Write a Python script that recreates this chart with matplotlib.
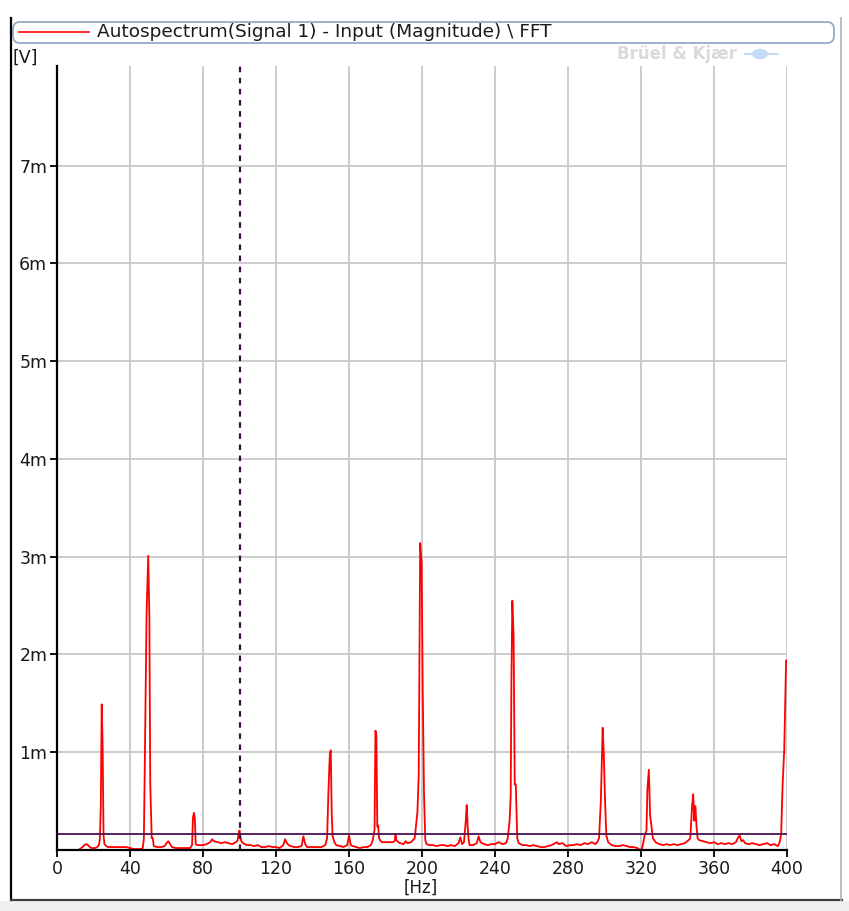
import matplotlib
matplotlib.use('Agg')
import matplotlib.pyplot as plt
from matplotlib.lines import Line2D
from matplotlib.patches import FancyBboxPatch, Rectangle, Ellipse
from matplotlib.ticker import FixedLocator, FuncFormatter

# ── Spectrum (frequency in Hz, magnitude in mV) ─────────────────────────────
freq_hz = [
    12.5, 14, 15, 16, 17, 18, 19, 20, 21, 22, 23, 23.5, 24, 24.5, 25, 25.5, 26, 27, 28,
    30, 32, 34, 36, 38, 40, 42, 44, 46, 47, 47.6, 48.2, 49.1, 50.0, 50.6, 51.1, 51.9,
    52.5, 53, 55, 57, 59, 60, 61, 62, 63, 65, 67, 69, 71, 73, 74, 74.5, 75, 75.5, 76,
    77, 78, 80, 82, 84, 85, 86, 88, 90, 92, 94, 96, 98, 99, 99.5, 100, 100.5, 101, 102,
    104, 106, 108, 110, 112, 114, 116, 118, 120, 122, 124, 125, 126, 127, 128, 130,
    132, 134, 135, 136, 137, 139, 141, 143, 145, 147, 148, 148.7, 149.5, 150, 150.5,
    151, 152, 153, 155, 157, 159, 160, 160.5, 161, 162, 164, 166, 168, 170, 172, 173,
    174, 174.5, 175, 175.5, 176, 176.5, 177, 178, 180, 182, 184, 185, 185.5, 186, 187,
    188, 190, 191, 192, 194, 196, 197.5, 198.2, 199.0, 199.8, 200.4, 201.1, 201.8,
    202.5, 204, 206, 208, 210, 212, 214, 216, 218, 220, 221, 222, 223, 224, 224.5,
    225, 225.5, 226, 228, 230, 231, 232, 234, 236, 238, 240, 242, 244, 246, 247,
    248, 248.6, 249.0, 249.5, 250.2, 250.8, 251.4, 252.2, 253, 255, 257, 259, 261,
    263, 265, 267, 269, 271, 273, 274, 275, 277, 279, 281, 283, 285, 287, 289, 291,
    293, 295, 296, 297, 298, 299, 299.6, 300.3, 301, 302, 304, 306, 308, 310, 312,
    314, 316, 318, 319.5, 320.5, 321, 322, 323, 323.5, 324.3, 325, 325.7, 326.5, 328,
    330, 332, 334, 336, 338, 340, 342, 344, 346, 347, 348, 348.6, 349.2, 349.8, 350.4,
    351, 352, 354, 356, 358, 360, 362, 364, 366, 368, 370, 372, 373, 374, 375, 376,
    377, 379, 381, 383, 385, 387, 389, 391, 393, 395, 396, 396.8, 397.6, 398.5, 399.5,
    400,
]
mag_mv = [
    0.01, 0.03, 0.05, 0.06, 0.05, 0.03, 0.02, 0.02, 0.02, 0.03, 0.05, 0.12, 0.44, 1.49, 1.07, 0.15, 0.06, 0.04, 0.03,
    0.03, 0.03, 0.03, 0.03, 0.03, 0.02, 0.01, 0.01, 0.01, 0.02, 0.12, 1.01, 2.44, 3.01, 2.40, 0.68, 0.12,
    0.12, 0.04, 0.03, 0.03, 0.04, 0.07, 0.09, 0.06, 0.03, 0.02, 0.02, 0.02, 0.02, 0.02, 0.05, 0.33, 0.38, 0.33, 0.06,
    0.05, 0.05, 0.05, 0.06, 0.08, 0.11, 0.09, 0.08, 0.07, 0.08, 0.07, 0.06, 0.08, 0.10, 0.17, 0.20, 0.13, 0.09, 0.07,
    0.05, 0.05, 0.04, 0.05, 0.03, 0.03, 0.04, 0.03, 0.03, 0.02, 0.05, 0.11, 0.07, 0.05, 0.04, 0.03,
    0.03, 0.04, 0.14, 0.06, 0.03, 0.03, 0.03, 0.03, 0.03, 0.05, 0.12, 0.58, 0.98, 1.02, 0.40,
    0.14, 0.08, 0.05, 0.04, 0.03, 0.05, 0.15, 0.10, 0.05, 0.04, 0.03, 0.02, 0.03, 0.03, 0.05, 0.10,
    0.21, 1.22, 1.18, 0.24, 0.25, 0.12, 0.10, 0.08, 0.08, 0.08, 0.08, 0.09, 0.16, 0.10, 0.08,
    0.07, 0.06, 0.09, 0.07, 0.08, 0.12, 0.39, 0.77, 3.14, 2.94, 1.62, 0.58, 0.10,
    0.06, 0.05, 0.05, 0.04, 0.05, 0.05, 0.04, 0.05, 0.04, 0.07, 0.13, 0.06, 0.08, 0.30, 0.46,
    0.25, 0.12, 0.05, 0.05, 0.07, 0.14, 0.08, 0.06, 0.05, 0.06, 0.06, 0.08, 0.06, 0.07, 0.12,
    0.30, 0.55, 1.75, 2.55, 2.19, 0.67, 0.67, 0.12, 0.07, 0.05, 0.05, 0.04, 0.05,
    0.04, 0.03, 0.03, 0.04, 0.05, 0.07, 0.08, 0.06, 0.07, 0.04, 0.05, 0.05, 0.06, 0.05, 0.07, 0.06,
    0.08, 0.06, 0.08, 0.12, 0.50, 1.25, 0.99, 0.50, 0.15, 0.08, 0.05, 0.04, 0.04, 0.05, 0.04,
    0.03, 0.03, 0.02, 0.00, 0.01, 0.05, 0.15, 0.20, 0.62, 0.82, 0.35, 0.25, 0.12, 0.08,
    0.06, 0.05, 0.06, 0.05, 0.06, 0.05, 0.06, 0.07, 0.10, 0.12, 0.45, 0.57, 0.30, 0.45, 0.25,
    0.12, 0.10, 0.09, 0.08, 0.07, 0.08, 0.06, 0.07, 0.06, 0.07, 0.06, 0.08, 0.12, 0.15, 0.09, 0.10,
    0.07, 0.06, 0.07, 0.06, 0.05, 0.06, 0.07, 0.05, 0.06, 0.04, 0.08, 0.16, 0.67, 1.03, 1.94,
    1.94,
]

# reference level and cursor
level_mv = 0.164
cursor_hz = 100

x_ticks = list(range(0, 401, 40))
y_ticks_mv = [1, 2, 3, 4, 5, 6, 7]

legend_text = 'Autospectrum(Signal 1) - Input (Magnitude) \\ FFT'

W, H = 849, 911
fig = plt.figure(figsize=(W / 100, H / 100), dpi=100)
fig.patch.set_facecolor('white')


def fx(px):
    return px / W


def fy(py):
    return 1 - py / H


# plot area in pixel coords: x 57..787, y 66..850
ax = fig.add_axes([fx(57), fy(850), fx(787) - fx(57), fy(66) - fy(850)])
ax.set_xlim(0, 400)
ax.set_ylim(0, 8.02e-3)

grid_c = '#c8c8c8'
for xt in x_ticks[1:]:
    ax.axvline(xt, color=grid_c, lw=1.3, zorder=1)
for yt in y_ticks_mv:
    ax.axhline(yt * 1e-3, color=grid_c, lw=1.3, zorder=1)

ax.plot(freq_hz, [m * 1e-3 for m in mag_mv], color='#ff0000', lw=1.3, zorder=3)
ax.axhline(level_mv * 1e-3, color='#4a1050', lw=1.3, zorder=4)
ax.axvline(cursor_hz, color='#3a1040', lw=1.6, ls=(0, (2.5, 2.5)), zorder=4)

for side in ('top', 'right'):
    ax.spines[side].set_visible(False)
for side in ('left', 'bottom'):
    ax.spines[side].set_color('black')
    ax.spines[side].set_linewidth(1.6)
    ax.spines[side].set_zorder(5)

ax.xaxis.set_major_locator(FixedLocator(x_ticks))
ax.yaxis.set_major_locator(FixedLocator([v * 1e-3 for v in y_ticks_mv]))
ax.yaxis.set_major_formatter(FuncFormatter(lambda v, p: f'{v * 1e3:.0f}m'))
ax.tick_params(axis='both', direction='out', length=5, width=1.3, color='black',
               labelsize=12.5, labelcolor='#1a1a1a', pad=2)

# axis units
fig.text(fx(421), fy(888), '[Hz]', ha='center', va='center', fontsize=12, color='#1a1a1a')
fig.text(fx(13), fy(58), '[V]', ha='left', va='center', fontsize=12.5, color='#1a1a1a')

# legend bar along the top
bar = FancyBboxPatch((fx(13), fy(43)), fx(834) - fx(13), fy(22) - fy(43),
                     boxstyle='round,pad=0,rounding_size=0.008',
                     transform=fig.transFigure, facecolor='white',
                     edgecolor='#8ea4c0', lw=1.2)
fig.add_artist(bar)
fig.add_artist(Line2D([fx(19), fx(89)], [fy(32), fy(32)], color='#ff0000', lw=1.2,
                      transform=fig.transFigure))
fig.text(fx(97), fy(32), legend_text, ha='left', va='center', fontsize=13.3, color='#1a1a1a')

# watermark
fig.text(fx(677), fy(54), 'Brüel & Kjær', ha='center', va='center', fontsize=12,
         fontweight='bold', color='#dadada')
fig.add_artist(Ellipse((fx(760), fy(54)), fx(16), fx(10), transform=fig.transFigure,
                       facecolor='#c5daf5', edgecolor='none'))
fig.add_artist(Line2D([fx(745), fx(778)], [fy(54), fy(54)], color='#c5daf5', lw=1.5,
                      transform=fig.transFigure))

# window frame
fig.add_artist(Line2D([fx(11), fx(11)], [fy(18), fy(900)], color='black', lw=1.6,
                      transform=fig.transFigure))
fig.add_artist(Line2D([fx(11), fx(842)], [fy(900), fy(900)], color='#404040', lw=1.6,
                      transform=fig.transFigure))
fig.add_artist(Line2D([fx(841), fx(841)], [fy(18), fy(900)], color='#b0b0b0', lw=1.2,
                      transform=fig.transFigure))
fig.add_artist(Rectangle((0, 0), 1, fy(901), transform=fig.transFigure,
                         facecolor='#f0f0f0', edgecolor='none'))

fig.savefig('out.png', dpi=100, facecolor='white')
